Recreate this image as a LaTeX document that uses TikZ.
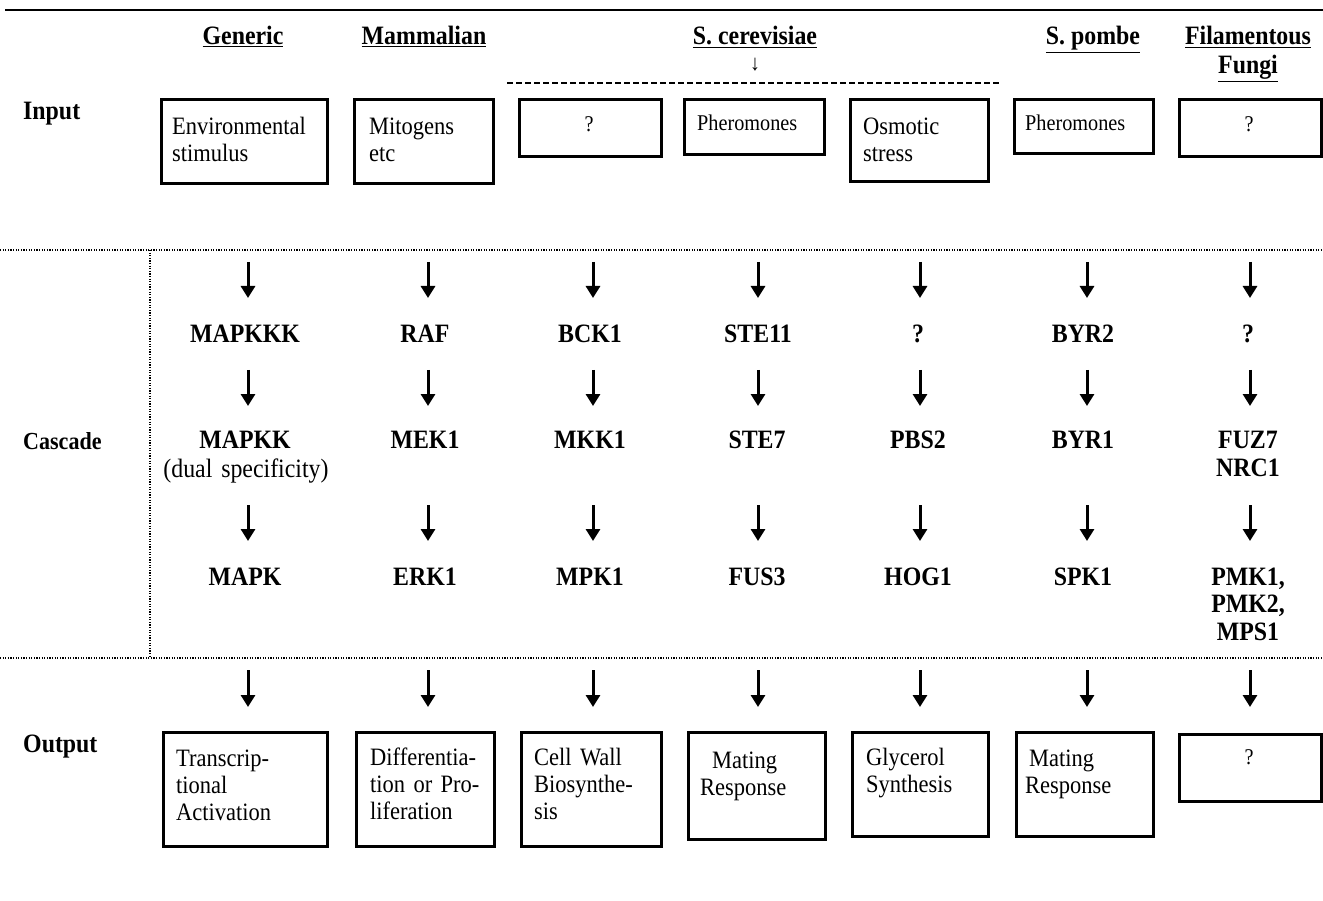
\documentclass[tikz,border=0pt]{standalone}
\usepackage{fontspec}
\setmainfont{Liberation Serif}[FakeStretch=0.9]
\usetikzlibrary{arrows.meta}
\newcommand\fsBig{\fontsize{26.5}{30}\selectfont}
\newcommand\fsMid{\fontsize{25}{27}\selectfont}
\newcommand\fsSm{\fontsize{22.5}{25}\selectfont}
\begin{document}
\begin{tikzpicture}[x=1pt,y=-1pt,
  box/.style={draw,line width=3.4pt,inner sep=0pt,anchor=north west},
  bt/.style={anchor=base west,inner sep=0pt,text width=220pt,align=left,font=\fsMid},
  ct/.style={anchor=base,inner sep=0pt,text width=220pt,align=center,font=\fsMid},
  gene/.style={anchor=base,inner sep=0pt,text width=220pt,align=center,font=\fsBig\bfseries},
  hdr/.style={anchor=base,inner sep=0pt,font=\fsBig\bfseries},
  side/.style={anchor=base west,inner sep=0pt,font=\fsBig\bfseries},
  arr/.style={line width=3pt,-{Triangle[width=14pt,length=12pt]}},
  dotline/.style={line width=1.2pt,dash pattern=on 1.2pt off 1.4pt},
  rule/.style={line width=2pt}]
\useasboundingbox (0,0) rectangle (1323,901);

% top rule
\coordinate (tl) at (5,10); \coordinate (tr) at (1323,10);
\draw[rule] (tl) -- (tr);

% headers
\node[hdr] (h1) at (243,45) {\underline{Generic}};
\node[hdr] (h2) at (424,45) {\underline{Mammalian}};
\node[hdr] (h3) at (755,45) {\underline{S. cerevisiae}};
\node[hdr] (h4) at (1093,45) {\underline{S. pombe}};
\node[hdr] (h5) at (1248,45) {\underline{Filamentous}};
\node[hdr] (h5b) at (1248,74) {\underline{Fungi}};
\node[anchor=base,inner sep=0pt,font=\fontsize{22}{24}\selectfont] (h3a) at (755,71) {↓};
\coordinate (dl1) at (507,83); \coordinate (dl2) at (1000,83);
\draw[line width=1.2pt,dash pattern=on 6pt off 3pt] (dl1) -- (dl2);

% side labels
\node[side] (linput) at (23,120) {Input};
\node[side,font=\fontsize{24.5}{26}\selectfont\bfseries] (lcasc) at (23,449) {Cascade};
\node[side] (loutput) at (23,752) {Output};

% input boxes
\node[box,minimum width=166,minimum height=84] (in1) at (160,98) {};
\node[box,minimum width=139,minimum height=84] (in2) at (353,98) {};
\node[box,minimum width=142,minimum height=57] (in3) at (518,98) {};
\node[box,minimum width=140,minimum height=55] (in4) at (683,98) {};
\node[box,minimum width=138,minimum height=82] (in5) at (849,98) {};
\node[box,minimum width=139,minimum height=54] (in6) at (1013,98) {};
\node[box,minimum width=142,minimum height=57] (in7) at (1178,98) {};
\node[bt] (in1t) at (172,135) {Environmental\\stimulus};
\node[bt] (in2t) at (369,135) {Mitogens\\etc};
\node[ct,font=\fsSm] (in3t) at (589,132) {?};
\node[bt,font=\fsSm] (in4t) at (697,131) {Pheromones};
\node[bt] (in5t) at (863,135) {Osmotic\\stress};
\node[bt,font=\fsSm] (in6t) at (1025,131) {Pheromones};
\node[ct,font=\fsSm] (in7t) at (1249,132) {?};

% dotted frame
\coordinate (d1l) at (0,250); \coordinate (d1r) at (1323,250);
\coordinate (d2l) at (0,658); \coordinate (d2r) at (1323,658);
\coordinate (vt) at (150,250); \coordinate (vb) at (150,658);
\draw[dotline] (d1l) -- (d1r);
\draw[dotline] (d2l) -- (d2r);
\draw[dotline] (vt) -- (vb);

% arrows
\foreach \x [count=\i] in {248,428,593,758,920,1087,1250}{
  \coordinate (a0s\i) at (\x,262); \coordinate (a0e\i) at (\x,298);
  \coordinate (a1s\i) at (\x,370); \coordinate (a1e\i) at (\x,406);
  \coordinate (a2s\i) at (\x,505); \coordinate (a2e\i) at (\x,541);
  \coordinate (a3s\i) at (\x,670); \coordinate (a3e\i) at (\x,707);
  \draw[arr] (a0s\i) -- (a0e\i);
  \draw[arr] (a1s\i) -- (a1e\i);
  \draw[arr] (a2s\i) -- (a2e\i);
  \draw[arr] (a3s\i) -- (a3e\i);
}

% cascade row 1
\node[gene] (k1) at (245,343) {MAPKKK};
\node[gene] (k2) at (425,343) {RAF};
\node[gene] (k3) at (590,343) {BCK1};
\node[gene] (k4) at (758,343) {STE11};
\node[gene] (k5) at (918,343) {?};
\node[gene] (k6) at (1083,343) {BYR2};
\node[gene] (k7) at (1248,343) {?};
% cascade row 2
\node[gene] (m1) at (245,448) {MAPKK};
\node[ct,font=\fsBig] (m1b) at (246,477) {(dual specificity)};
\node[gene] (m2) at (425,448) {MEK1};
\node[gene] (m3) at (590,448) {MKK1};
\node[gene] (m4) at (757,448) {STE7};
\node[gene] (m5) at (918,448) {PBS2};
\node[gene] (m6) at (1083,448) {BYR1};
\node[gene,font=\fontsize{26.5}{28}\selectfont\bfseries] (m7) at (1248,448) {FUZ7\\NRC1};
% cascade row 3
\node[gene] (p1) at (245,585) {MAPK};
\node[gene] (p2) at (425,585) {ERK1};
\node[gene] (p3) at (590,585) {MPK1};
\node[gene] (p4) at (757,585) {FUS3};
\node[gene] (p5) at (918,585) {HOG1};
\node[gene] (p6) at (1083,585) {SPK1};
\node[gene,font=\fontsize{26.5}{27.5}\selectfont\bfseries] (p7) at (1248,585) {PMK1,\\PMK2,\\MPS1};

% output boxes
\node[box,minimum width=164,minimum height=114] (o1) at (162,731) {};
\node[box,minimum width=138,minimum height=114] (o2) at (355,731) {};
\node[box,minimum width=140,minimum height=114] (o3) at (520,731) {};
\node[box,minimum width=137,minimum height=107] (o4) at (687,731) {};
\node[box,minimum width=136,minimum height=104] (o5) at (851,731) {};
\node[box,minimum width=137,minimum height=104] (o6) at (1015,731) {};
\node[box,minimum width=142,minimum height=67] (o7) at (1178,733) {};
\node[bt] (o1t) at (176,766) {Transcrip-\\tional\\Activation};
\node[bt] (o2t) at (370,765) {Differentia-\\tion or Pro-\\liferation};
\node[bt] (o3t) at (534,765) {Cell Wall\\Biosynthe-\\sis};
\node[bt] (o4t) at (700,768) {\hspace*{12pt}Mating\\Response};
\node[bt] (o5t) at (866,765) {Glycerol\\Synthesis};
\node[bt] (o6t) at (1025,766) {\hspace*{4pt}Mating\\Response};
\node[ct,font=\fsSm] (o7t) at (1249,764) {?};
\end{tikzpicture}
\end{document}
